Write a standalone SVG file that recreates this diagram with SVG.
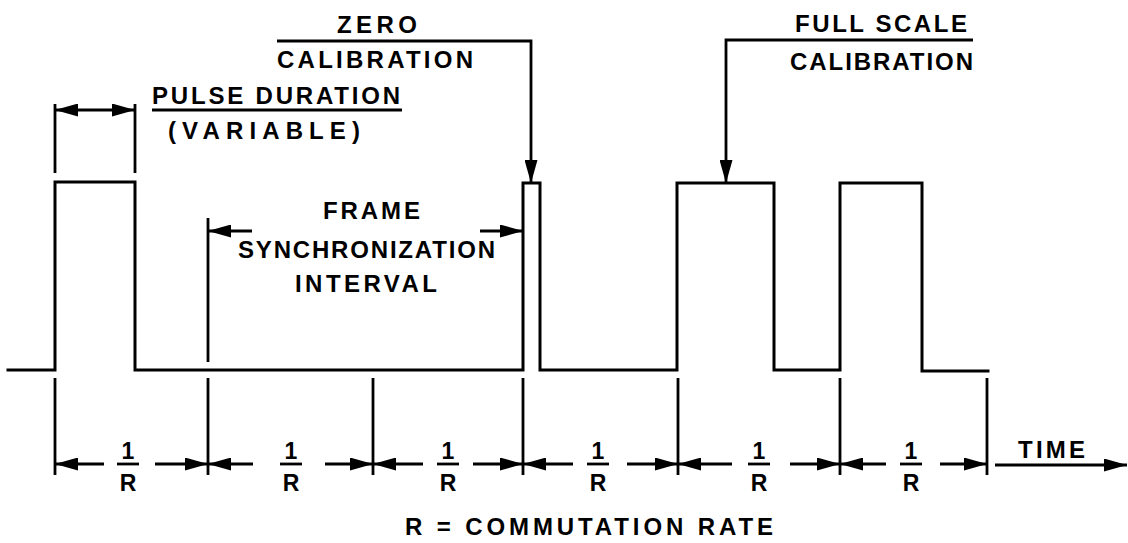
<svg xmlns="http://www.w3.org/2000/svg" width="1128" height="543" viewBox="0 0 1128 543">
  <style>
    .wave { fill: none; stroke: #000; stroke-width: 3; stroke-linejoin: miter; stroke-linecap: square; }
    .dim { fill: none; stroke: #000; stroke-width: 2.8; }
    .arr { fill: none; stroke: #000; stroke-width: 2.8; marker-end: url(#ah); }
    .arr2 { fill: none; stroke: #000; stroke-width: 2.8; marker-start: url(#ah); marker-end: url(#ah); }
    text { font-family: "Liberation Sans", Arial, sans-serif; font-weight: bold; fill: #000; }
    .lbl { font-size: 24px; }
    .frac { font-size: 23px; text-anchor: middle; }
  </style>
  <defs>
    <marker id="ah" viewBox="0 0 23 13" refX="23" refY="6.5" markerWidth="23" markerHeight="13" markerUnits="userSpaceOnUse" orient="auto-start-reverse">
      <path d="M0,0 L23,6.5 L0,13 z" fill="#000"/>
    </marker>
  </defs>

  <!-- waveform -->
  <g id="waveform">
    <path class="wave" d="M8,370 H55 V182 H135 V370 H523 V183 H540 V370 H677 V183 H774 V370 H840 V183 H922 V371 H988"/>
  </g>

  <!-- labels -->
  <g id="label-pulse-duration">
    <text class="lbl" x="152" y="104" textLength="248" lengthAdjust="spacing">PULSE DURATION</text>
    <line class="dim" x1="152" y1="110" x2="402" y2="110"/>
    <text class="lbl" x="168" y="139" textLength="192" lengthAdjust="spacing">(VARIABLE)</text>
  </g>
  <g id="label-zero-calibration">
    <text class="lbl" x="337" y="33" textLength="80" lengthAdjust="spacing">ZERO</text>
    <text class="lbl" x="277" y="68" textLength="196" lengthAdjust="spacing">CALIBRATION</text>
  </g>
  <g id="label-full-scale">
    <text class="lbl" x="795" y="32" textLength="172" lengthAdjust="spacing">FULL SCALE</text>
    <text class="lbl" x="790" y="70" textLength="183" lengthAdjust="spacing">CALIBRATION</text>
  </g>
  <g id="label-frame-sync">
    <text class="lbl" x="323" y="219" textLength="97" lengthAdjust="spacing">FRAME</text>
    <text class="lbl" x="238" y="258" textLength="257" lengthAdjust="spacing">SYNCHRONIZATION</text>
    <text class="lbl" x="295" y="292" textLength="142" lengthAdjust="spacing">INTERVAL</text>
  </g>
  <g id="label-time">
    <text class="lbl" x="1018" y="458" textLength="67" lengthAdjust="spacing">TIME</text>
  </g>
  <g id="label-rate">
    <text class="lbl" x="405" y="535" textLength="368" lengthAdjust="spacing">R = COMMUTATION RATE</text>
  </g>
  <g id="fractions">
    <g id="frac1"><text class="frac" x="128" y="459">1</text><line class="dim" x1="117" y1="464" x2="139" y2="464"/><text class="frac" x="128" y="491">R</text></g>
    <g id="frac2"><text class="frac" x="291" y="459">1</text><line class="dim" x1="280" y1="464" x2="302" y2="464"/><text class="frac" x="291" y="491">R</text></g>
    <g id="frac3"><text class="frac" x="448" y="459">1</text><line class="dim" x1="437" y1="464" x2="459" y2="464"/><text class="frac" x="448" y="491">R</text></g>
    <g id="frac4"><text class="frac" x="598" y="459">1</text><line class="dim" x1="587" y1="464" x2="609" y2="464"/><text class="frac" x="598" y="491">R</text></g>
    <g id="frac5"><text class="frac" x="759" y="459">1</text><line class="dim" x1="748" y1="464" x2="770" y2="464"/><text class="frac" x="759" y="491">R</text></g>
    <g id="frac6"><text class="frac" x="911" y="459">1</text><line class="dim" x1="900" y1="464" x2="922" y2="464"/><text class="frac" x="911" y="491">R</text></g>
  </g>

  <!-- connectors / dimension lines -->
  <g id="connectors">
    <!-- pulse duration -->
    <line class="dim" x1="55" y1="104" x2="55" y2="173"/>
    <line class="dim" x1="135" y1="104" x2="135" y2="173"/>
    <line class="arr2" x1="55" y1="110" x2="135" y2="110"/>
    <!-- zero calibration leader -->
    <polyline class="arr" points="277,41 531,41 531,183"/>
    <!-- full scale calibration leader -->
    <polyline class="arr" points="973,40 726,40 726,183"/>
    <!-- frame sync interval -->
    <line class="dim" x1="208" y1="218" x2="208" y2="362"/>
    <line class="arr" x1="252" y1="231" x2="208" y2="231"/>
    <line class="arr" x1="480" y1="231" x2="523" y2="231"/>
    <!-- ticks -->
    <line class="dim" x1="55" y1="378" x2="55" y2="475"/>
    <line class="dim" x1="208" y1="378" x2="208" y2="475"/>
    <line class="dim" x1="373" y1="378" x2="373" y2="475"/>
    <line class="dim" x1="523" y1="378" x2="523" y2="475"/>
    <line class="dim" x1="678" y1="378" x2="678" y2="475"/>
    <line class="dim" x1="840" y1="378" x2="840" y2="475"/>
    <line class="dim" x1="987" y1="378" x2="987" y2="475"/>
    <!-- interval arrows -->
    <line class="arr" x1="104" y1="464" x2="55" y2="464"/>
    <line class="arr" x1="155" y1="464" x2="208" y2="464"/>
    <line class="arr" x1="253" y1="464" x2="208" y2="464"/>
    <line class="arr" x1="325" y1="464" x2="373" y2="464"/>
    <line class="arr" x1="423" y1="464" x2="373" y2="464"/>
    <line class="arr" x1="473" y1="464" x2="523" y2="464"/>
    <line class="arr" x1="573" y1="464" x2="523" y2="464"/>
    <line class="arr" x1="627" y1="464" x2="678" y2="464"/>
    <line class="arr" x1="732" y1="464" x2="678" y2="464"/>
    <line class="arr" x1="790" y1="464" x2="840" y2="464"/>
    <line class="arr" x1="886" y1="464" x2="840" y2="464"/>
    <line class="arr" x1="940" y1="464" x2="987" y2="464"/>
    <!-- time axis -->
    <line class="arr" x1="995" y1="465" x2="1127" y2="465"/>
  </g>
</svg>
